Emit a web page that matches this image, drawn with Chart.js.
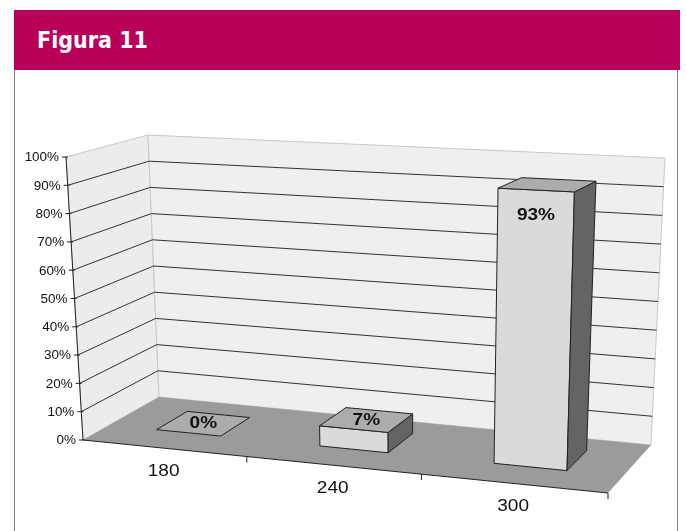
<!DOCTYPE html>
<html>
<head>
<meta charset="utf-8">
<script src="https://cdn.jsdelivr.net/npm/chart.js@4/dist/chart.umd.min.js"></script>
<style>
  html, body { margin: 0; padding: 0; background: #fff; }
  #page { position: relative; width: 686px; height: 531px; overflow: hidden; }
  #titulo {
    position: absolute; left: 14px; top: 10px; width: 666px; height: 60px;
    background: #b8005a; color: #fff; z-index: 2;
    font-family: "DejaVu Sans Condensed", "Liberation Sans Narrow", sans-serif;
    font-stretch: condensed; font-weight: bold; font-size: 23px;
    line-height: 60px; padding-left: 23px; box-sizing: border-box;
  }
  #painel {
    position: absolute; left: 14px; top: 70px; width: 664px; height: 470px;
    border-left: 1px solid #808080; border-right: 1px solid #808080; box-sizing: border-box;
  }
  #grafico { position: absolute; left: 0; top: 0; }
</style>
</head>
<body>
<div id="page">
  <div id="titulo">Figura 11</div>
  <div id="painel"></div>
  <canvas id="grafico" width="686" height="531"></canvas>
</div>
<script>
const categorias = ["180", "240", "300"];
const percentuais = [0, 7, 93];

// cantos do chao e vetores de altura (100%) do cubo em perspectiva
const chao = { fl: [83, 440], fr: [608, 493], br: [651, 445], bl: [159, 397] };
const subida = { fl: [-17, -283], fr: [9, -311], br: [14, -287], bl: [-11, -262] };
const distorcao = -0.093;
const frenteBarra = 0.35;
const fundoBarra = 0.77;

function projetar(u, d, h) {
  const g = (1 + distorcao) * u / (1 + distorcao * u);
  const w = { fl: (1 - g) * (1 - d), fr: g * (1 - d), br: g * d, bl: (1 - g) * d };
  let x = 0, y = 0;
  for (const k in w) {
    x += w[k] * (chao[k][0] + h * subida[k][0]);
    y += w[k] * (chao[k][1] + h * subida[k][1]);
  }
  return [x, y];
}

function poligono(c, pts, fill, stroke) {
  c.beginPath();
  c.moveTo(pts[0][0], pts[0][1]);
  for (let i = 1; i < pts.length; i++) c.lineTo(pts[i][0], pts[i][1]);
  c.closePath();
  if (fill) { c.fillStyle = fill; c.fill(); }
  if (stroke) { c.strokeStyle = stroke; c.lineWidth = 1; c.stroke(); }
}

function linha(c, a, b, cor, largura) {
  c.beginPath();
  c.moveTo(a[0], a[1]);
  c.lineTo(b[0], b[1]);
  c.strokeStyle = cor;
  c.lineWidth = largura || 1;
  c.stroke();
}

function texto(c, t, x, y, align, font) {
  c.save();
  c.font = font;
  c.fillStyle = "#111";
  c.textBaseline = "middle";
  c.textAlign = align;
  c.translate(x, y);
  c.scale(1.12, 1);
  c.fillText(t, 0, 0);
  c.restore();
}

const perspectiva = {
  id: "perspectiva",
  beforeDatasetsDraw(chart) {
    const c = chart.ctx;
    const xs = chart.scales.x;
    const ys = chart.scales.y;
    const altura = v => (ys.bottom - ys.getPixelForValue(v)) / ys.height;
    const posX = px => (px - xs.left) / xs.width;

    // paredes
    poligono(c, [projetar(0, 0, 0), projetar(0, 1, 0), projetar(0, 1, 1), projetar(0, 0, 1)], "#ececec", "#c8c8c8");
    poligono(c, [projetar(0, 1, 0), projetar(1, 1, 0), projetar(1, 1, 1), projetar(0, 1, 1)], "#efefef", "#c8c8c8");

    // linhas de grade
    ys.ticks.forEach(t => {
      const h = altura(t.value);
      if (h <= 0 || h >= 1) return;
      linha(c, projetar(0, 0, h), projetar(0, 1, h), "#333", 1);
      linha(c, projetar(0, 1, h), projetar(1, 1, h), "#333", 1);
    });

    // chao
    poligono(c, [projetar(0, 0, 0), projetar(1, 0, 0), projetar(1, 1, 0), projetar(0, 1, 0)], "#9b9b9b", null);

    // eixo vertical
    linha(c, projetar(0, 0, 0), projetar(0, 0, 1), "#222", 1);
    ys.ticks.forEach(t => {
      const p = projetar(0, 0, altura(t.value));
      linha(c, [p[0] - 4, p[1]], [p[0] + 2, p[1]], "#222", 1);
      texto(c, t.value + "%", p[0] - 7, p[1] + 1, "right", "12px 'Liberation Sans', Arial, sans-serif");
    });

    // eixo das categorias
    linha(c, projetar(0, 0, 0), projetar(1, 0, 0), "#222", 1);
    for (let i = 1; i <= categorias.length; i++) {
      const p = projetar(i / categorias.length, 0, 0);
      linha(c, p, [p[0], p[1] + 6], "#222", 1);
    }
    categorias.forEach((cat, i) => {
      const p = projetar(posX(xs.getPixelForValue(i)), 0, 0);
      texto(c, cat, p[0], p[1] + 23, "center", "17px 'Liberation Sans', Arial, sans-serif");
    });

    // barras
    const meta = chart.getDatasetMeta(0);
    meta.data.forEach((el, i) => {
      const u0 = posX(el.x - el.width / 2);
      const u1 = posX(el.x + el.width / 2);
      const uc = posX(el.x);
      const h = (el.base - el.y) / ys.height;
      const d0 = frenteBarra, d1 = fundoBarra;
      if (h > 0) {
        poligono(c, [projetar(u0, d0, 0), projetar(u1, d0, 0), projetar(u1, d0, h), projetar(u0, d0, h)], "#dadada", "#222");
        poligono(c, [projetar(u1, d0, 0), projetar(u1, d1, 0), projetar(u1, d1, h), projetar(u1, d0, h)], "#646464", "#222");
      }
      poligono(c, [projetar(u0, d0, h), projetar(u1, d0, h), projetar(u1, d1, h), projetar(u0, d1, h)], "#acacac", "#222");

      const v = percentuais[i];
      let p;
      if (h > 0.5) {
        const topo = projetar(uc, d0, h);
        p = [topo[0], topo[1] + 25];
      } else {
        p = projetar(uc, (d0 + d1) / 2, h);
      }
      texto(c, v + "%", p[0], p[1], "center", "bold 17px 'Liberation Sans', Arial, sans-serif");
    });
    return false;
  },
};

const ctxGrafico = document.getElementById("grafico").getContext("2d");
const dadosGrafico = {
  labels: categorias,
  datasets: [{
    data: percentuais,
    barPercentage: 0.4,
    categoryPercentage: 1,
    backgroundColor: "#dadada",
  }],
};
const graficoConfig = {
  type: "bar",
  data: dadosGrafico,
  options: {
    responsive: false,
    animation: false,
    events: [],
    scales: {
      x: {
        grid: { display: false },
        border: { display: false },
        ticks: { display: false },
      },
      y: {
        min: 0,
        max: 100,
        grid: { display: false },
        border: { display: false },
        ticks: { display: false, stepSize: 10 },
      },
    },
    plugins: {
      legend: { display: false },
      tooltip: { enabled: false },
    },
  },
  plugins: [perspectiva],
};
const grafico = new Chart(ctxGrafico, graficoConfig);
</script>
</body>
</html>
